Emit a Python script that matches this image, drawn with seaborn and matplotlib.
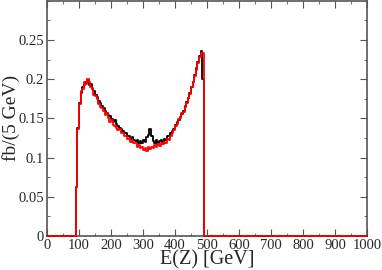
import numpy as np
import pandas as pd
import matplotlib
matplotlib.use("Agg")
import matplotlib.pyplot as plt
from matplotlib.ticker import MultipleLocator, FormatStrFormatter
import seaborn as sns

# 5 GeV bins, starting at 90 GeV (everything outside is zero)
bin_width = 5
first_edge = 90

black_vals = [0.063, 0.138, 0.170, 0.182, 0.190, 0.192, 0.197, 0.199, 0.193, 0.194,
              0.187, 0.185, 0.180, 0.177, 0.172, 0.170, 0.166, 0.163, 0.160, 0.157,
              0.154, 0.153, 0.149, 0.146, 0.148, 0.143, 0.140, 0.138, 0.137, 0.134,
              0.131, 0.132, 0.128, 0.127, 0.124, 0.126, 0.122, 0.121, 0.123, 0.119,
              0.121, 0.118, 0.122, 0.120, 0.126, 0.129, 0.136, 0.127, 0.121, 0.118,
              0.122, 0.119, 0.121, 0.123, 0.120, 0.124, 0.123, 0.127, 0.128, 0.132,
              0.134, 0.137, 0.141, 0.145, 0.148, 0.152, 0.156, 0.160, 0.166, 0.171,
              0.176, 0.182, 0.190, 0.196, 0.205, 0.214, 0.222, 0.229, 0.236, 0.200]

red_vals = [0.062, 0.136, 0.168, 0.185, 0.188, 0.196, 0.194, 0.200, 0.196, 0.190,
            0.189, 0.180, 0.178, 0.175, 0.168, 0.165, 0.163, 0.160, 0.154, 0.157,
            0.150, 0.146, 0.148, 0.141, 0.140, 0.138, 0.135, 0.136, 0.131, 0.132,
            0.127, 0.128, 0.124, 0.125, 0.120, 0.122, 0.118, 0.119, 0.114, 0.116,
            0.112, 0.113, 0.110, 0.112, 0.109, 0.113, 0.111, 0.114, 0.112, 0.116,
            0.113, 0.117, 0.115, 0.119, 0.117, 0.120, 0.119, 0.124, 0.122, 0.128,
            0.131, 0.135, 0.140, 0.143, 0.149, 0.150, 0.157, 0.158, 0.165, 0.170,
            0.176, 0.181, 0.190, 0.197, 0.204, 0.212, 0.221, 0.228, 0.233, 0.233]

x_ticks = list(range(0, 1001, 100))
y_ticks = [0, 0.05, 0.1, 0.15, 0.2, 0.25]

sns.set_style("ticks")
plt.rcParams["font.family"] = ["Liberation Serif", "DejaVu Serif"]

n_pre = first_edge // bin_width
n_tot = 1000 // bin_width
edges = np.arange(n_tot + 1) * bin_width


def pad(vals):
    # value at each left edge, last one repeated for steps-post
    out = np.zeros(n_tot + 1)
    out[n_pre:n_pre + len(vals)] = vals
    return out


df = pd.DataFrame({"E": edges, "black": pad(black_vals), "red": pad(red_vals)})

fig = plt.figure(figsize=(3.82, 2.70), dpi=100)
ax = fig.add_axes([0.123, 0.126, 0.838, 0.871])

for col, c in [("black", "black"), ("red", "#ff0000")]:
    sns.lineplot(data=df, x="E", y=col, drawstyle="steps-post", color=c,
                 linewidth=1.3, ax=ax, zorder=5, clip_on=False)

ax.set_xlim(0, 1000)
ax.set_ylim(0, 0.3)
ax.set_xticks(x_ticks)
ax.set_yticks(y_ticks)
ax.xaxis.set_minor_locator(MultipleLocator(50))
ax.yaxis.set_minor_locator(MultipleLocator(0.025))
ax.yaxis.set_major_formatter(FormatStrFormatter("%g"))
ax.tick_params(which="both", direction="in", top=True, right=True,
               labelsize=10.5, pad=2, color="#555555")
ax.tick_params(which="major", length=5)
ax.tick_params(which="minor", length=2.5)
for s in ax.spines.values():
    s.set_color("#555555")
    s.set_linewidth(1.2)

ax.set_xlabel("E(Z) [GeV]", fontsize=14.5, labelpad=-1)
ax.set_ylabel("fb/(5 GeV)", fontsize=14)
ax.yaxis.set_label_coords(-0.083, 0.5)

fig.savefig("out.png", dpi=100)
